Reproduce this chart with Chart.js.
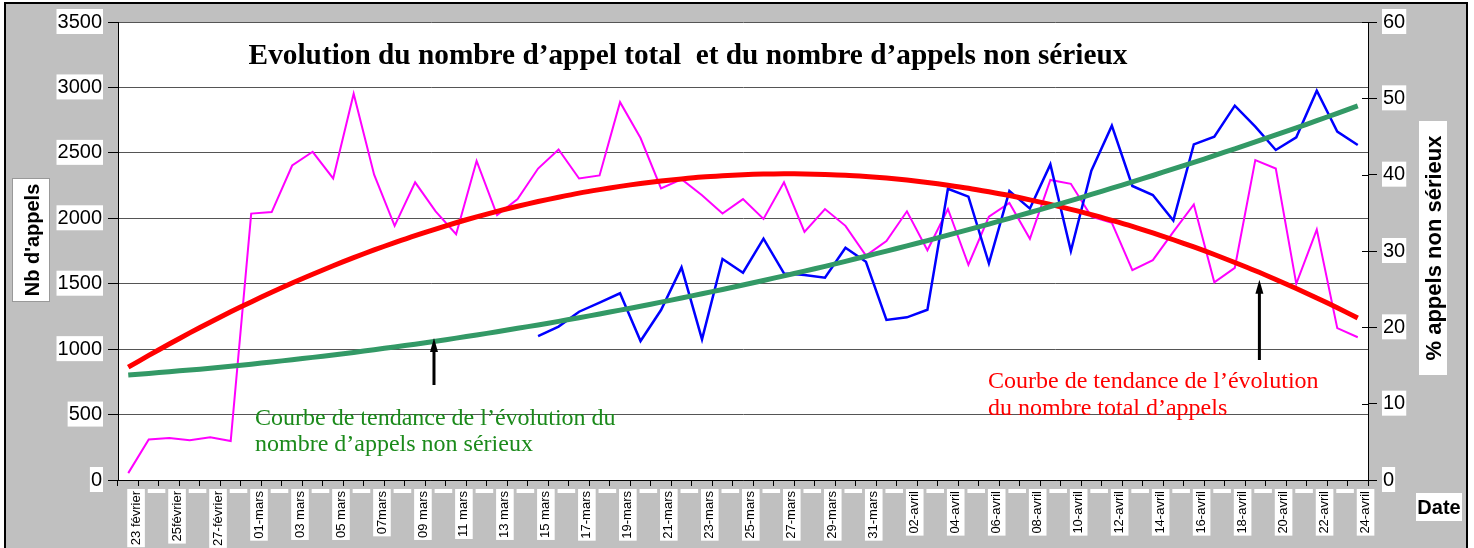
<!DOCTYPE html>
<html>
<head>
<meta charset="utf-8">
<script src="https://cdn.jsdelivr.net/npm/chart.js@4"></script>
<style>
html,body{margin:0;padding:0;background:#fff;}
#wrap{position:relative;width:1474px;height:548px;}
canvas{display:block;}
</style>
</head>
<body>
<div id="wrap"><canvas id="c" width="1474" height="548"></canvas></div>
<script>
// ---- data ----
const categories = [
 "23 février","24 février","25 février","26 février","27 février","28 février",
 "01 mars","02 mars","03 mars","04 mars","05 mars","06 mars","07 mars","08 mars","09 mars","10 mars",
 "11 mars","12 mars","13 mars","14 mars","15 mars","16 mars","17 mars","18 mars","19 mars","20 mars",
 "21 mars","22 mars","23 mars","24 mars","25 mars","26 mars","27 mars","28 mars","29 mars","30 mars","31 mars",
 "01 avril","02 avril","03 avril","04 avril","05 avril","06 avril","07 avril","08 avril","09 avril","10 avril",
 "11 avril","12 avril","13 avril","14 avril","15 avril","16 avril","17 avril","18 avril","19 avril","20 avril",
 "21 avril","22 avril","23 avril","24 avril"
];
const tickLabels = [
 "23 février","","25février","","27-février","",
 "01-mars","","03 mars","","05 mars","","07mars","","09 mars","",
 "11 mars","","13 mars","","15 mars","","17-mars","","19-mars","",
 "21-mars","","23-mars","","25-mars","","27-mars","","29-mars","","31-mars",
 "","02-avril","","04-avril","","06-avril","","08-avril","","10-avril",
 "","12-avril","","14-avril","","16-avril","","18-avril","","20-avril",
 "","22-avril","","24-avril"
];
// % appels non sérieux (right axis)
const pctNonSerieux = [
 0.9,5.3,5.5,5.2,5.6,5.1,
 34.9,35.1,41.2,43.0,39.5,50.6,40.0,33.3,39.0,35.2,
 32.2,41.8,34.7,36.8,40.8,43.3,39.5,39.9,49.5,44.8,
 38.2,39.4,37.3,34.9,36.8,34.2,39.0,32.5,35.5,33.3,29.4,
 31.3,35.2,30.1,35.5,28.2,34.5,36.3,31.6,39.3,38.8,
 34.5,33.7,27.5,28.8,32.5,36.1,25.9,27.8,41.9,40.8,
 25.7,32.8,19.9,18.7
];
// Nb d'appels (left axis)
const nbAppels = [
 null,null,null,null,null,null,null,null,null,null,null,null,null,null,null,null,null,null,null,null,
 1100,1172,1286,1355,1427,1062,1299,1625,1075,1689,1584,1844,1579,1566,1546,1775,1668,
 1223,1243,1301,2226,2165,1656,2208,2074,2412,1750,2364,2708,2247,2178,1982,2565,2624,
 2861,2700,2522,2619,2975,2662,2560
];
// trend curves (left axis units)
const trendRouge = [
 862,952,1039,1124,1206,1285,1361,1434,1505,1572,1637,1699,1758,1814,1868,1918,
 1966,2011,2053,2092,2128,2161,2192,2219,2244,2266,2285,2301,2315,2325,2333,2338,
 2340,2339,2335,2329,2319,2307,2292,2274,2253,2230,2203,2174,2141,2106,2068,2028,
 1984,1938,1888,1836,1781,1723,1662,1599,1532,1463,1391,1316,1238
];
const trendVert = [
 802,814,828,840,854,869,885,902,919,937,956,975,996,1017,1038,1061,
 1084,1108,1133,1159,1185,1212,1240,1269,1298,1328,1359,1391,1423,1456,1490,1525,
 1560,1596,1633,1671,1710,1749,1789,1829,1871,1913,1956,2000,2044,2090,2135,2182,
 2230,2278,2327,2377,2427,2479,2531,2584,2637,2691,2746,2802,2859
];
const leftTicks = [0,500,1000,1500,2000,2500,3000,3500];
const rightTicks = [0,10,20,30,40,50,60];

const SERIF = '"Liberation Serif","Times New Roman",serif';
const SANS = '"Liberation Sans",Arial,Helvetica,sans-serif';

const decor = {
  id:'decor',
  beforeDraw(chart){
    const ctx = chart.ctx, a = chart.chartArea;
    ctx.save();
    ctx.fillStyle = '#fff';
    ctx.fillRect(0,0,chart.width,chart.height);
    ctx.fillStyle = '#c0c0c0';
    ctx.fillRect(5,3,1462,548);
    ctx.fillStyle = '#fff';
    ctx.fillRect(a.left,a.top,a.right-a.left,a.bottom-a.top);
    ctx.strokeStyle = '#000';
    ctx.lineWidth = 2;
    ctx.strokeRect(5,3,1462,560);
    ctx.restore();
  },
  afterDraw(chart){
    const ctx = chart.ctx, a = chart.chartArea;
    const x = chart.scales.x, y = chart.scales.y;
    ctx.save();
    // title
    ctx.fillStyle = '#000';
    ctx.font = 'bold 29.3px ' + SERIF;
    ctx.textAlign = 'center';
    ctx.textBaseline = 'alphabetic';
    ctx.fillText('Evolution du nombre d\u2019appel total  et du nombre d\u2019appels non sérieux', 688, 64);
    // annotations
    ctx.textAlign = 'left';
    ctx.font = '24px ' + SERIF;
    ctx.fillStyle = '#1B8A1B';
    ctx.fillText('Courbe de tendance de l\u2019évolution du', 255, 425);
    ctx.fillText('nombre d\u2019appels non sérieux', 255, 451);
    ctx.fillStyle = '#FF0000';
    ctx.fillText('Courbe de tendance de l\u2019évolution', 988, 388);
    ctx.fillText('du nombre total d\u2019appels', 988, 415);
    // arrows
    function arrow(ci, v0, v1){
      const px = x.getPixelForValue(ci), p0 = y.getPixelForValue(v0), p1 = y.getPixelForValue(v1);
      ctx.strokeStyle = '#000'; ctx.fillStyle = '#000'; ctx.lineWidth = 3;
      ctx.beginPath(); ctx.moveTo(px,p0); ctx.lineTo(px,p1+10); ctx.stroke();
      ctx.beginPath(); ctx.moveTo(px,p1); ctx.lineTo(px-4,p1+14); ctx.lineTo(px+4,p1+14); ctx.closePath(); ctx.fill();
    }
    arrow(14.92, 726, 1085);
    arrow(55.2, 917, 1530);
    // axis titles
    function box(cx, cy, w, h, border){
      ctx.fillStyle = '#fff';
      ctx.fillRect(cx-w/2, cy-h/2, w, h);
      if (border){ ctx.strokeStyle = '#999'; ctx.lineWidth = 1; ctx.strokeRect(cx-w/2+0.5, cy-h/2+0.5, w-1, h-1); }
    }
    box(31, 240, 38, 124, true);
    ctx.fillStyle = '#000';
    ctx.font = 'bold 20px ' + SANS;
    ctx.textAlign = 'center'; ctx.textBaseline = 'middle';
    ctx.save(); ctx.translate(32, 240); ctx.rotate(-Math.PI/2); ctx.fillText("Nb d'appels", 0, 1); ctx.restore();
    box(1433, 248, 28, 254, false);
    ctx.fillStyle = '#000';
    ctx.font = 'bold 22px ' + SANS;
    ctx.save(); ctx.translate(1434, 248); ctx.rotate(-Math.PI/2); ctx.fillText('% appels non sérieux', 0, 1); ctx.restore();
    box(1439, 507, 46, 28, false);
    ctx.fillStyle = '#000';
    ctx.font = 'bold 20px ' + SANS;
    ctx.fillText('Date', 1439, 508);
    // right axis ticks crossing inside
    const r = chart.scales.y1;
    ctx.strokeStyle = '#000'; ctx.lineWidth = 1;
    rightTicks.forEach(t=>{ const py = Math.round(r.getPixelForValue(t))+0.5; ctx.beginPath(); ctx.moveTo(a.right-6,py); ctx.lineTo(a.right,py); ctx.stroke(); });
    ctx.restore();
  }
};

new Chart(document.getElementById('c'), {
  type:'line',
  data:{
    labels: categories,
    datasets:[
      {label:'Tendance non sérieux', data: trendVert, yAxisID:'y', borderColor:'#339966', borderWidth:5, pointRadius:0, tension:0.3, order:1},
      {label:'Tendance total', data: trendRouge, yAxisID:'y', borderColor:'#FF0000', borderWidth:5, pointRadius:0, tension:0.3, order:2},
      {label:"Nb d'appels", data: nbAppels, yAxisID:'y', borderColor:'#0000FF', borderWidth:2.5, pointRadius:0, tension:0, spanGaps:false, order:3},
      {label:'% appels non sérieux', data: pctNonSerieux, yAxisID:'y1', borderColor:'#FF00FF', borderWidth:2, pointRadius:0, tension:0, order:4}
    ]
  },
  options:{
    responsive:false, animation:false,
    layout:{padding:{top:22,left:0,right:0,bottom:0}},
    plugins:{legend:{display:false}, tooltip:{enabled:false}, title:{display:false}},
    scales:{
      x:{
        type:'category', offset:true,
        grid:{display:true, drawOnChartArea:false, offset:true, tickLength:6, color:'#000'},
        border:{color:'#000', width:1},
        ticks:{autoSkip:false, maxRotation:90, minRotation:90, padding:5, color:'#000',
          font:{family:SANS, size:13},
          showLabelBackdrop:true, backdropColor:'#fff', backdropPadding:{top:1,bottom:1,left:2,right:2},
          callback:(v,i)=>tickLabels[i]},
        afterFit:(s)=>{ s.height = 68; }
      },
      y:{
        position:'left', min:0, max:3500,
        afterBuildTicks:(s)=>{ s.ticks = leftTicks.map(v=>({value:v})); },
        grid:{color:'#555', lineWidth:1, tickLength:10, tickColor:'#000'},
        border:{color:'#000', width:1},
        ticks:{color:'#000', font:{family:SANS, size:20}, padding:6,
          callback:(v)=>String(v),
          showLabelBackdrop:true, backdropColor:'#fff', backdropPadding:{top:1,bottom:0,left:1,right:1}},
        afterFit:(s)=>{ s.width = 118; }
      },
      y1:{
        position:'right', min:0, max:60,
        afterBuildTicks:(s)=>{ s.ticks = rightTicks.map(v=>({value:v})); },
        grid:{drawOnChartArea:false, tickLength:9, color:'#000'},
        border:{color:'#000', width:1},
        ticks:{color:'#000', font:{family:SANS, size:20}, padding:6,
          callback:(v)=>String(v),
          showLabelBackdrop:true, backdropColor:'#fff', backdropPadding:{top:1,bottom:0,left:1,right:1}},
        afterFit:(s)=>{ s.width = 106; }
      }
    }
  },
  plugins:[decor]
});
</script>
</body>
</html>
